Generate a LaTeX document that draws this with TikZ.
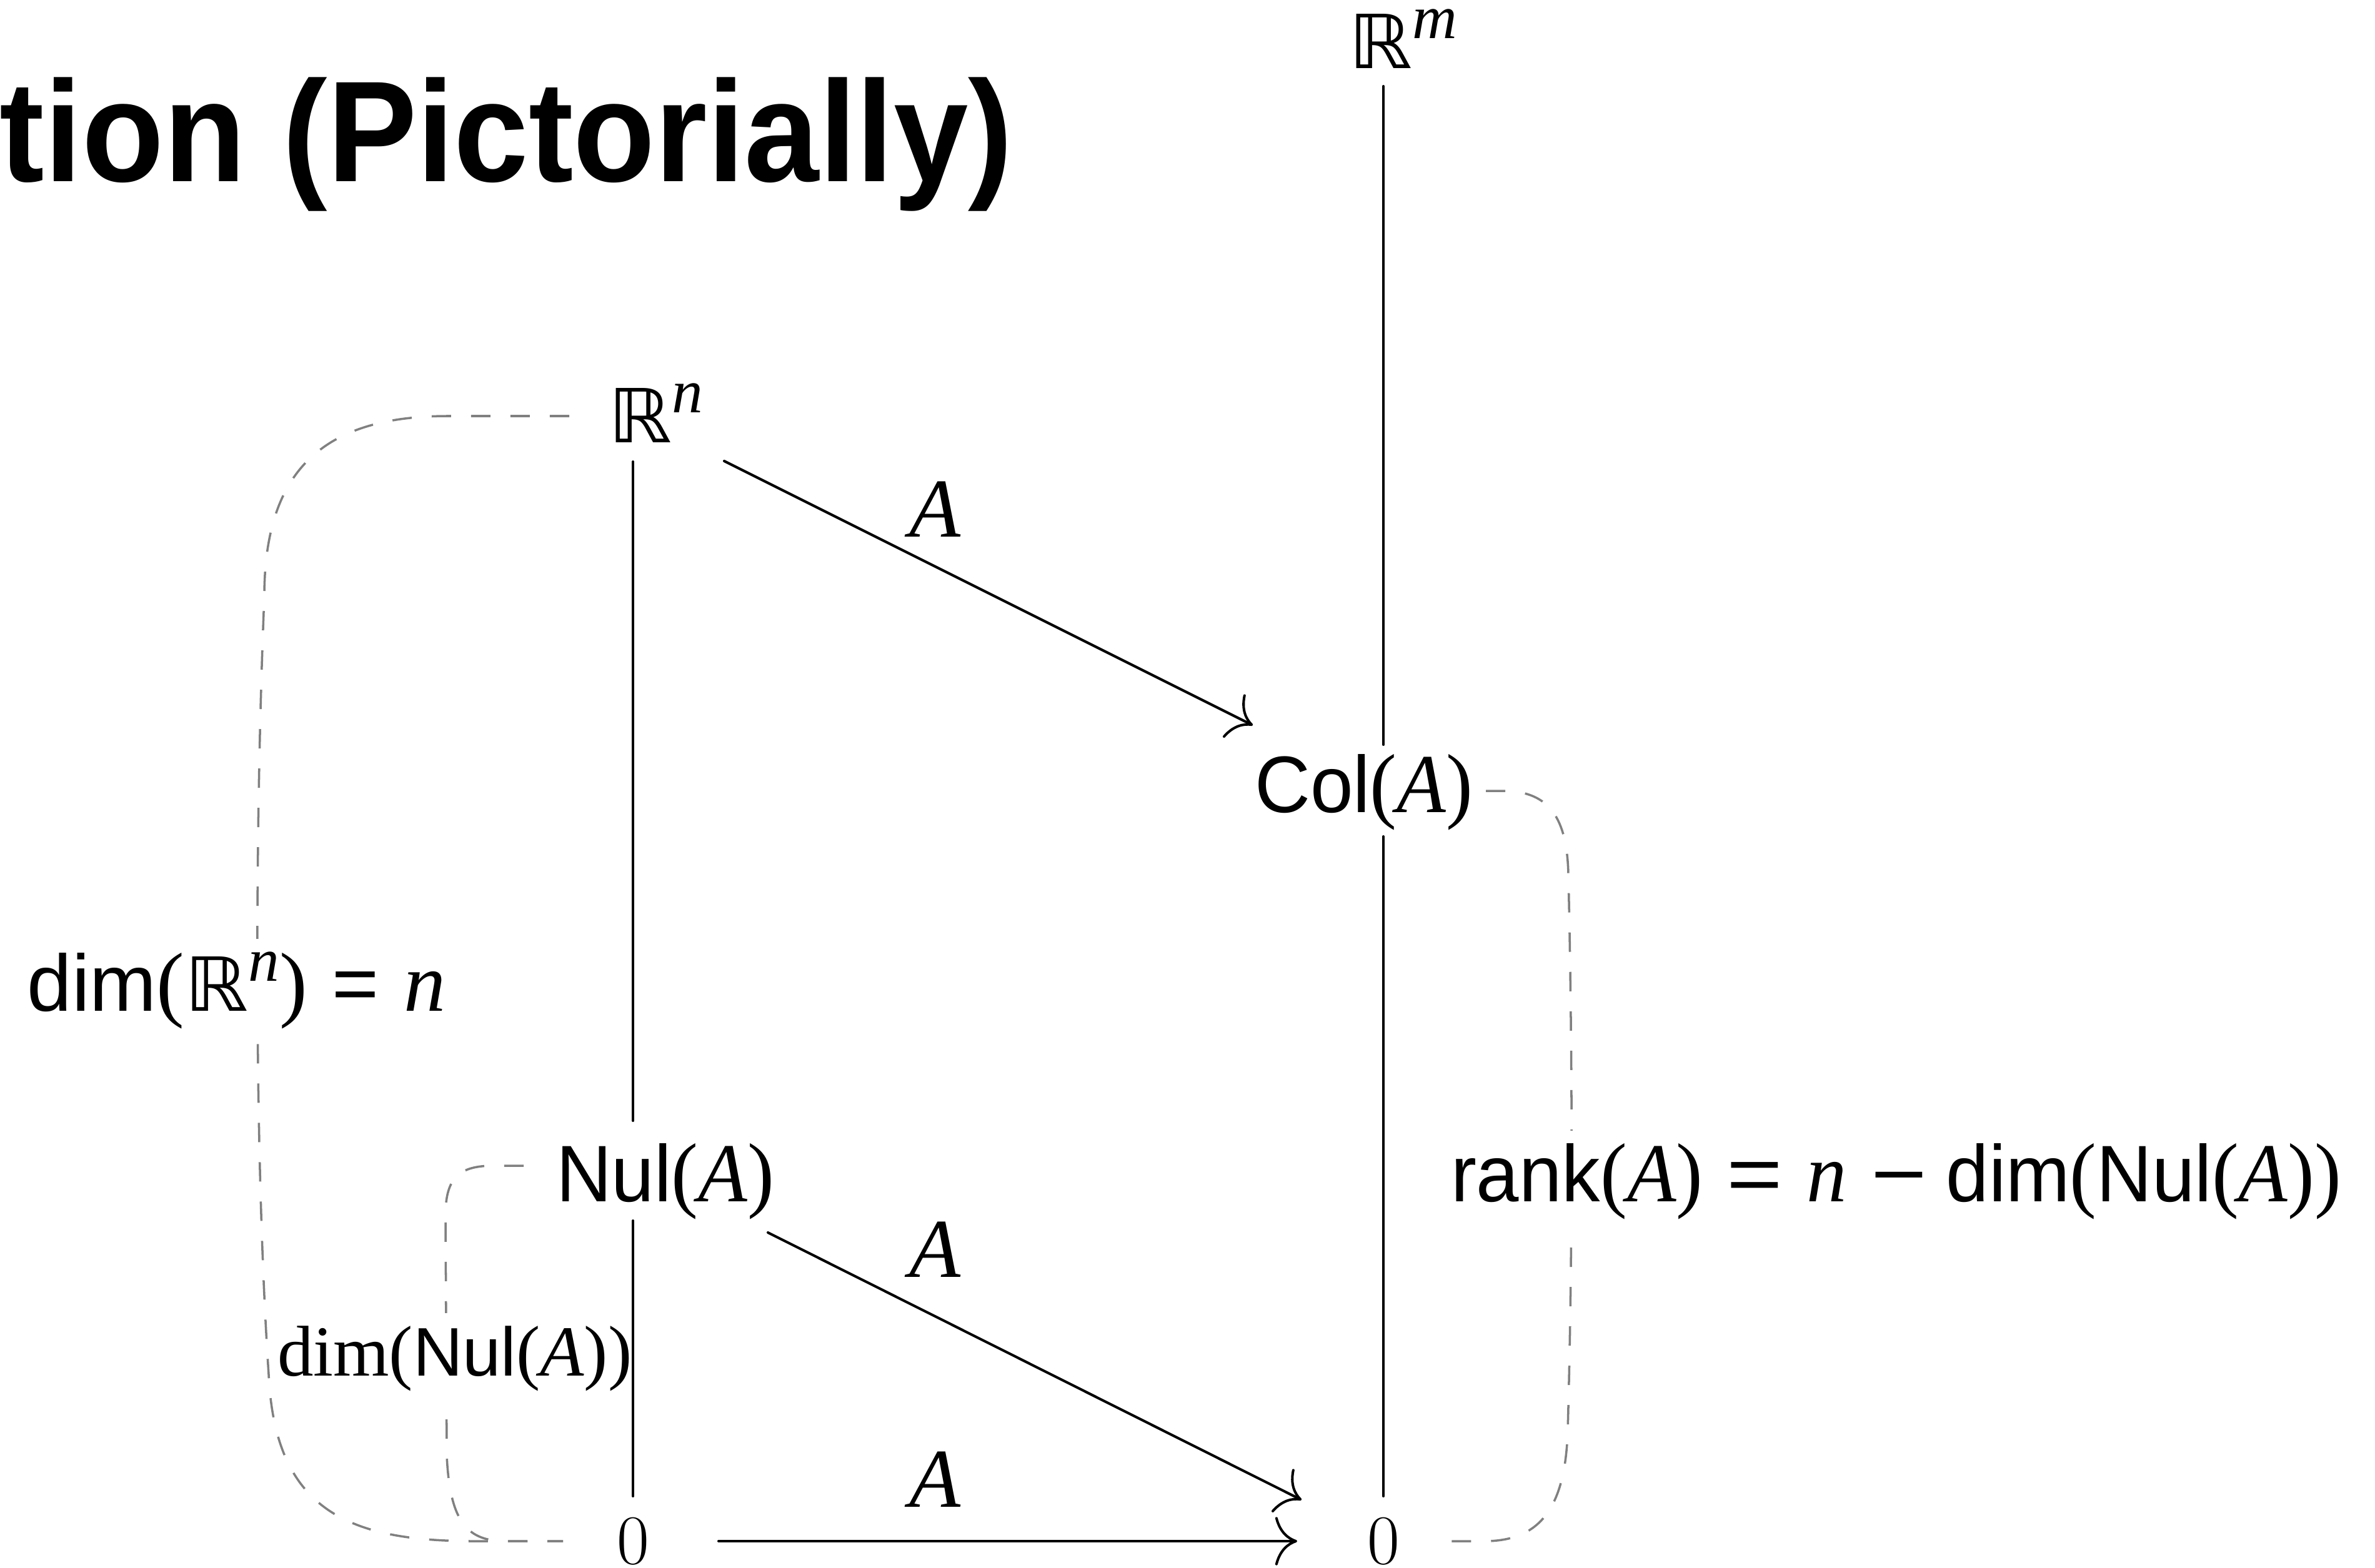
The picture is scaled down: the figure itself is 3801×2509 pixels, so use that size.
\documentclass[tikz,border=0pt]{standalone}
\usepackage{graphicx}
\usepackage{fontspec}
\setmainfont{Liberation Sans}
\newfontfamily\tms{Liberation Serif}[Scale=1.045]
\newfontfamily\bbf{DejaVu Sans}[Scale=0.93]
\newfontfamily\lmr{Latin Modern Roman}
\usetikzlibrary{arrows.meta,calc}
\newlength\px \setlength\px{0.01cm}
\newcommand\sz{\fontsize{36.5pt}{44pt}\selectfont}
\newcommand\ssz{\fontsize{27pt}{30pt}\selectfont}
\newcommand\iA{{\tms\itshape A}}
\newcommand\iN{{\tms\itshape n}}
\newcommand\lpar{{\tms(}}
\newcommand\rpar{{\tms)}}
\newcommand\RR{\scalebox{1.08}[1]{\bbf ℝ}}
\newcommand\supr[1]{\raisebox{48\px}{\ssz\tms\itshape #1}}
\newcommand\eqs{\scalebox{1.25}[1]{=}}
\newcommand\mns{\scalebox{1.25}[1]{−}}
\begin{document}
\begin{tikzpicture}[x=0.01cm,y=-0.01cm,
  txt/.style={inner sep=0pt, outer sep=0pt, font=\sz},
  lbl/.style={txt, fill=white, inner ysep=0.2cm},
  sline/.style={line width=1.15pt, line cap=round},
  arr/.style={sline, -{Computer Modern Rightarrow[length=10pt,width=22pt]}},
  dline/.style={draw=gray, line width=1pt, dash pattern=on 0.31cm off 0.32cm}]
\useasboundingbox (0,0) rectangle (3801,2509);
% title
\node[txt, anchor=base west, font=\fontsize{65.4pt}{70pt}\selectfont\bfseries] (title) at (0,290) {\scalebox{0.933}[1]{tion (Pictorially)}};
% objects
\node[txt, anchor=base west] (Rm) at (2158,110) {\RR\supr{m}};
\node[txt, anchor=base west] (Rn) at (973,708) {\RR\supr{n}};
\node[txt, anchor=base west] (Col) at (2008,1300) {\scalebox{0.96}[1]{Col\lpar\iA\rpar}};
\node[txt, anchor=base west] (Nul) at (890,1923) {\scalebox{0.96}[1]{Nul\lpar\iA\rpar}};
\node[txt, anchor=base, font=\lmr\fontsize{32pt}{34pt}\selectfont] (Z1) at (1013,2503) {0};
\node[txt, anchor=base, font=\lmr\fontsize{32pt}{34pt}\selectfont] (Z2) at (2214,2503) {0};
% arrow labels
\node[txt, anchor=base] (A1) at (1496,859) {\iA};
\node[txt, anchor=base] (A2) at (1496,2044) {\iA};
\node[txt, anchor=base] (A3) at (1496,2412) {\iA};
% dashed brackets
\draw[dline] ($(Rn.base west)+(-62,-42)$) -- (720,666)
  .. controls (510,665) and (423,760) .. (423,955)
  .. controls (405,1400) and (410,1900) .. (430,2200)
  .. controls (440,2420) and (560,2467) .. (760,2467)
  -- ($(Z1.base)+(-112,-36)$);
\draw[dline] ($(Nul.base west)+(-52,-57)$) -- (790,1866)
  .. controls (735,1866) and (713,1885) .. (713,1945)
  -- (715,2330)
  .. controls (720,2440) and (750,2467) .. (810,2467)
  -- ($(Z1.base)+(-112,-36)$);
\draw[dline] ($(Col.base west)+(370,-34)$) -- (2410,1266)
  .. controls (2480,1268) and (2508,1310) .. (2510,1400)
  .. controls (2517,1700) and (2517,2000) .. (2509,2290)
  .. controls (2505,2420) and (2460,2465) .. (2380,2467)
  -- ($(Z2.base)+(85,-36)$);
% bracket labels
\node[lbl, anchor=base west] (dimRn) at (44,1618) {dim\lpar\RR\supr{n}\rpar\hspace{40\px}=\hspace{40\px}\iN};
\node[lbl, anchor=base west] (rank) at (2322,1923) {\scalebox{0.958}[1]{rank\lpar\iA\rpar\hspace{40\px}\eqs\hspace{40\px}\iN\hspace{40\px}\mns\hspace{32\px}dim\lpar Nul\lpar\iA\rpar\rpar}};
\node[lbl, anchor=base west, font=\fontsize{31.3pt}{36pt}\selectfont] (dimNul) at (444,2202) {{\tms dim(}Nul{\tms(\itshape A\upshape))}};
% solid connectors
\draw[sline] ($(Rm.base west)+(56,28)$) -- ($(Col.base west)+(206,-108)$);
\draw[sline] ($(Col.base west)+(206,39)$) -- ($(Z2.base)+(0,-108)$);
\draw[sline] ($(Rn.base west)+(40,31)$) -- ($(Nul.base west)+(123,-129)$);
\draw[sline] ($(Nul.base west)+(123,31)$) -- ($(Z1.base)+(0,-108)$);
\draw[arr] ($(Rn.base west)+(186,30)$) -- ($(Col.base west)+(-3,-139)$);
\draw[arr] ($(Nul.base west)+(339,50)$) -- ($(Z2.base)+(-131,-102)$);
\draw[arr] ($(Z1.base)+(137,-36)$) -- ($(Z2.base)+(-138,-36)$);
\end{tikzpicture}
\end{document}
